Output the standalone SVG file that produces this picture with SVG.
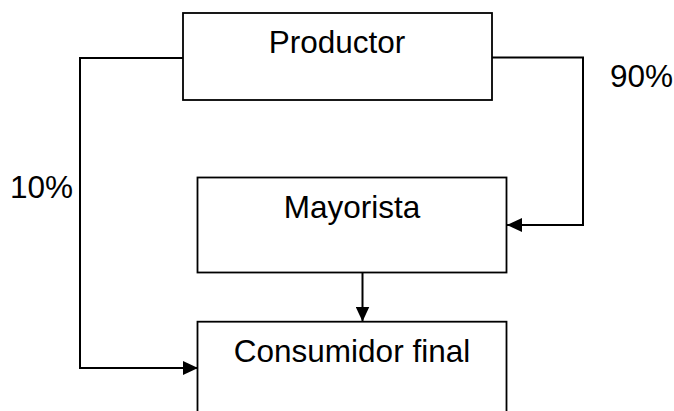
<svg xmlns="http://www.w3.org/2000/svg" width="674" height="411" viewBox="0 0 674 411">
<defs>
<style>
.box{fill:#fff;stroke:#000;stroke-width:1.8}
.ln{fill:none;stroke:#000;stroke-width:2}
text{font-family:"Liberation Sans",Arial,sans-serif;font-size:31.5px;fill:#000}
</style>
<marker id="ah" viewBox="0 0 15 14" refX="15" refY="7" markerWidth="15" markerHeight="14" markerUnits="userSpaceOnUse" orient="auto">
<path d="M0,0 L15,7 L0,14 Z" fill="#000"/>
</marker>
</defs>
<g id="productor"><rect class="box" x="183" y="13" width="309" height="87"/><text x="337" y="53" text-anchor="middle">Productor</text></g>
<g id="mayorista"><rect class="box" x="197.5" y="177.5" width="309" height="95"/><text x="352" y="218" text-anchor="middle">Mayorista</text></g>
<g id="consumidor"><rect class="box" x="197.5" y="321.7" width="309" height="100"/><text x="352" y="362" text-anchor="middle">Consumidor final</text></g>
<g id="connectors">
<polyline class="ln" points="183,58 80,58 80,368 198,368" marker-end="url(#ah)"/>
<polyline class="ln" points="492,57.5 583,57.5 583,225 507,225" marker-end="url(#ah)"/>
<line class="ln" x1="362.5" y1="272.7" x2="362.5" y2="321.5" marker-end="url(#ah)"/>
</g>
<g id="labels"><text x="610" y="87">90%</text><text x="10" y="198">10%</text></g>
</svg>
